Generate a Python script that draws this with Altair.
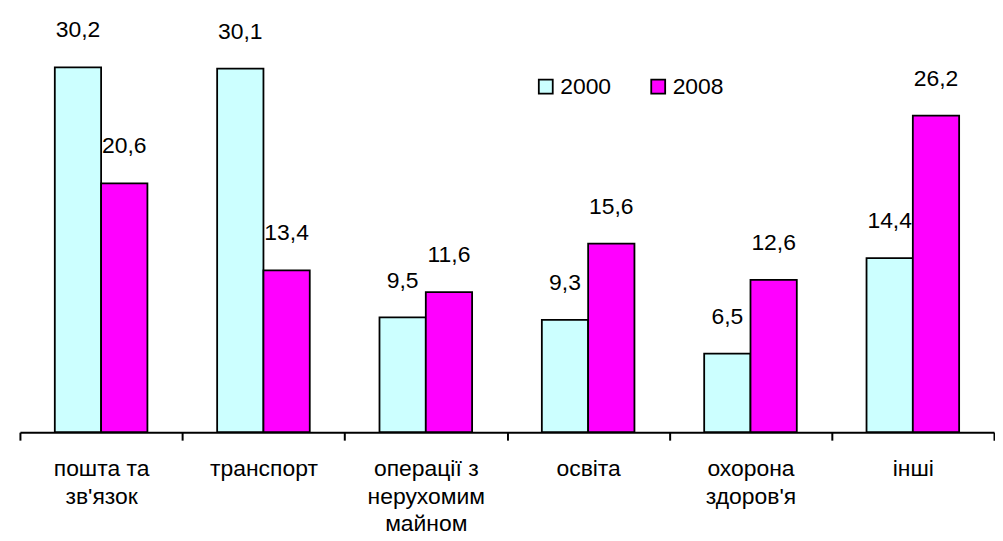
import altair as alt
import pandas as pd

categories = ["пошта та|зв'язок", "транспорт", "операції з|нерухомим|майном",
              "освіта", "охорона|здоров'я", "інші"]
years = ["2000", "2008"]
values_2000 = [30.2, 30.1, 9.5, 9.3, 6.5, 14.4]
values_2008 = [20.6, 13.4, 11.6, 15.6, 12.6, 26.2]

rows = []
for c, a, b in zip(categories, values_2000, values_2008):
    rows.append({"cat": c, "year": years[0], "value": a})
    rows.append({"cat": c, "year": years[1], "value": b})
df = pd.DataFrame(rows)

FONT = "Liberation Sans"
FS = 23
ydom = [0, 35]

x = alt.X("cat:N", sort=categories, title=None,
          scale=alt.Scale(paddingInner=0, paddingOuter=0),
          axis=alt.Axis(labelExpr="split(datum.label, '|')", labelAngle=0,
                        tickBand="extent", domainColor="black", tickColor="black",
                        domainWidth=2, tickWidth=2, tickSize=8,
                        labelFontSize=FS, labelFont=FONT, labelColor="black",
                        labelPadding=36, labelLineHeight=27.5,
                        labelBaseline="alphabetic"))
xoff = alt.XOffset("year:N", sort=years,
                   scale=alt.Scale(paddingInner=0, paddingOuter=0.753))
y = alt.Y("value:Q", axis=None, scale=alt.Scale(domain=ydom, nice=False))

bars = alt.Chart(df).mark_bar(stroke="black", strokeWidth=1.8).encode(
    x=x, xOffset=xoff, y=y,
    color=alt.Color("year:N", sort=years,
                    scale=alt.Scale(domain=years, range=["#CCFFFF", "#FF00FF"]),
                    legend=alt.Legend(title=None, orient="none", direction="horizontal",
                                      legendX=517, legendY=66, symbolType="square",
                                      symbolSize=196, symbolStrokeColor="black",
                                      symbolStrokeWidth=1.8, symbolOpacity=1,
                                      labelFontSize=FS, labelFont=FONT, labelColor="black",
                                      labelOffset=3, columnPadding=35)),
)

labels = alt.Chart(df).transform_calculate(
    ly="min(datum.value + 2.47, 33.19)",
    txt="replace(format(datum.value, '.1f'), '.', ',')",
).mark_text(fontSize=FS, font=FONT, color="black", baseline="alphabetic").encode(
    x=x, xOffset=xoff,
    y=alt.Y("ly:Q", axis=None, scale=alt.Scale(domain=ydom, nice=False)),
    text="txt:N",
)

chart = (bars + labels).properties(
    width=979, height=425,
    padding={"left": 11, "top": 0, "right": 0, "bottom": 0},
).configure_view(stroke=None).configure_axis(grid=False)

chart.save("out.html", embed_options={"renderer": "svg", "actions": False})
